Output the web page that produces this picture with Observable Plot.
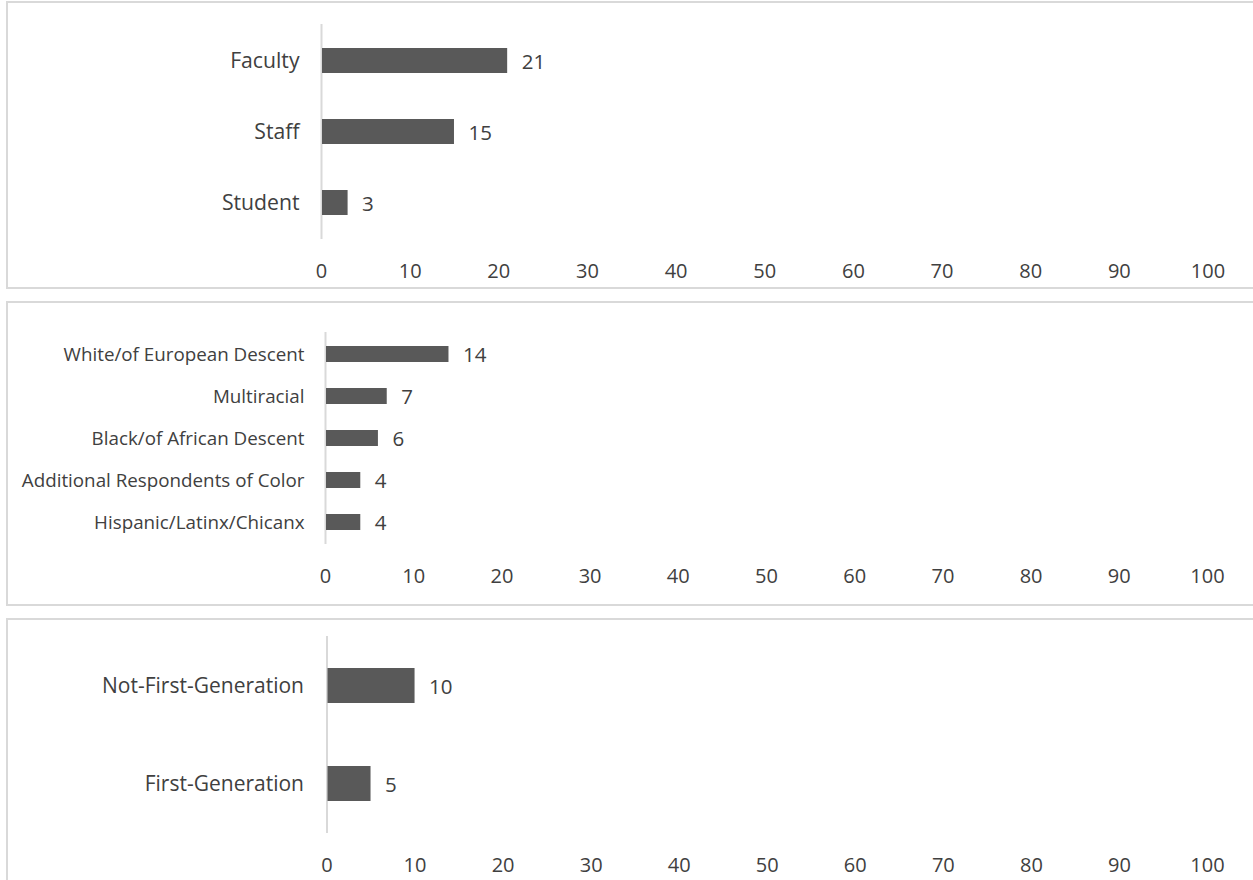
<!DOCTYPE html>
<html>
<head>
<meta charset="utf-8">
<script src="https://cdn.jsdelivr.net/npm/d3@7"></script>
<script src="https://cdn.jsdelivr.net/npm/@observablehq/plot@0.6"></script>
<style>
  html, body { margin: 0; padding: 0; background: #fff; overflow: hidden; }
  body { width: 1253px; height: 880px; position: relative; font-family: "Open Sans", sans-serif; }
  .panel { position: absolute; left: 6px; width: 1270px; border: 2px solid #d9d9d9; box-sizing: border-box; }
  .chart { position: absolute; left: 0; }
  .chart svg { display: block; }
</style>
</head>
<body>
<div class="panel" style="top:1px;height:288px"></div>
<div class="panel" style="top:301px;height:305px"></div>
<div class="panel" style="top:618px;height:300px"></div>
<div class="chart" id="role" style="top:0px"></div>
<div class="chart" id="race" style="top:302px"></div>
<div class="chart" id="generation" style="top:619px"></div>
<script>
// Respondents by campus role
const roleCategories = ["Faculty", "Staff", "Student"];
const roleCounts = [21, 15, 3];

// Respondents by racial/ethnic identity
const raceCategories = [
  "White/of European Descent",
  "Multiracial",
  "Black/of African Descent",
  "Additional Respondents of Color",
  "Hispanic/Latinx/Chicanx"
];
const raceCounts = [14, 7, 6, 4, 4];

// Respondents by first-generation status
const generationCategories = ["Not-First-Generation", "First-Generation"];
const generationCounts = [10, 5];

// Shared count axis
const xTickValues = [0, 10, 20, 30, 40, 50, 60, 70, 80, 90, 100];

const barColor = "#595959";
const inkColor = "#404040";
const axisLineColor = "#d9d9d9";

function barPanel(categories, counts, o) {
  const data = categories.map((c, i) => ({category: c, count: counts[i]}));
  return Plot.plot({
    width: 1253,
    height: o.height,
    marginLeft: o.marginLeft,
    marginRight: o.marginRight,
    marginTop: o.marginTop,
    marginBottom: o.marginBottom,
    style: {fontFamily: "'Open Sans', sans-serif", color: inkColor, background: "transparent", overflow: "visible"},
    x: {domain: [0, 100]},
    y: {domain: categories, paddingInner: o.paddingInner, paddingOuter: o.paddingInner / 2},
    marks: [
      Plot.ruleX([0], {stroke: axisLineColor, strokeWidth: 2}),
      Plot.barX(data, {x: "count", y: "category", fill: barColor, insetLeft: 1}),
      Plot.text(data, {
        x: "count", y: "category", text: d => String(d.count),
        textAnchor: "start", dx: 14, dy: 1, fontSize: 20.5, fill: inkColor
      }),
      Plot.axisX({
        ticks: xTickValues, tickFormat: d => String(d), tickSize: 0,
        tickPadding: 24, fontSize: 20, fill: inkColor, anchor: "bottom", label: null
      }),
      Plot.axisY({
        tickSize: 0, tickPadding: o.labelGap, fontSize: o.labelSize,
        fill: inkColor, anchor: "left", label: null
      })
    ]
  });
}

document.getElementById("role").append(barPanel(roleCategories, roleCounts, {
  height: 287, marginLeft: 321, marginRight: 45.5, marginTop: 24, marginBottom: 48,
  paddingInner: 0.65, labelGap: 22, labelSize: 21.2
}));

document.getElementById("race").append(barPanel(raceCategories, raceCounts, {
  height: 302, marginLeft: 325, marginRight: 46, marginTop: 30, marginBottom: 60,
  paddingInner: 0.62, labelGap: 21, labelSize: 18.8
}));

document.getElementById("generation").append(barPanel(generationCategories, generationCounts, {
  height: 261, marginLeft: 326.5, marginRight: 46, marginTop: 17, marginBottom: 47,
  paddingInner: 0.645, labelGap: 23, labelSize: 21
}));
</script>
</body>
</html>
